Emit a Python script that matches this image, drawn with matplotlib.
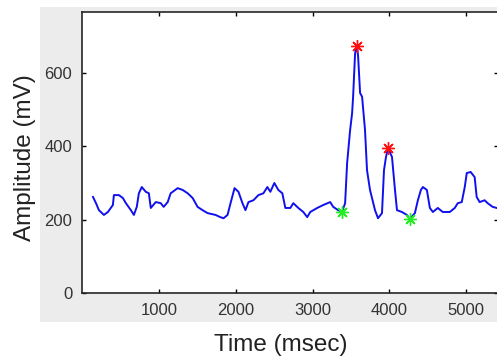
import matplotlib.pyplot as plt
from matplotlib.patches import Rectangle

# signal (time in msec, amplitude in mV)
TIME = [143, 182, 220, 285, 337, 402, 415, 480, 532, 571, 636, 675, 713, 740,
        778, 830, 870, 895, 960, 1025, 1063, 1115, 1154, 1245, 1310, 1375,
        1440, 1504, 1569, 1634, 1738, 1800, 1842, 1894, 1933, 1985, 2036,
        2088, 2127, 2166, 2231, 2296, 2361, 2412, 2451, 2503, 2555, 2607,
        2646, 2711, 2750, 2815, 2880, 2931, 2970, 3061, 3139, 3230, 3269,
        3333, 3385, 3424, 3450, 3489, 3515, 3528, 3554, 3580, 3593, 3619,
        3645, 3683, 3709, 3748, 3813, 3852, 3904, 3930, 3956, 3982, 4034,
        4073, 4099, 4163, 4228, 4267, 4332, 4371, 4410, 4436, 4488, 4527,
        4566, 4630, 4695, 4786, 4851, 4890, 4942, 4981, 5007, 5058, 5110,
        5136, 5175, 5240, 5279, 5344, 5396]
AMPLITUDE = [262, 245, 226, 213, 221, 240, 267, 267, 259, 245, 226, 213, 235,
             272, 289, 276, 272, 232, 248, 245, 235, 248, 272, 286, 281, 272,
             259, 235, 226, 218, 213, 207, 204, 213, 245, 286, 276, 245, 226,
             248, 253, 267, 272, 289, 276, 300, 281, 272, 232, 232, 245, 232,
             221, 207, 221, 232, 240, 248, 235, 226, 222, 245, 354, 444, 490,
             535, 654, 672, 645, 545, 535, 444, 335, 281, 226, 204, 218, 335,
             371, 395, 371, 281, 226, 221, 213, 202, 218, 253, 281, 289, 281,
             232, 221, 232, 221, 221, 232, 245, 248, 289, 327, 330, 316, 262,
             248, 253, 245, 235, 232]

PEAK_TIME = [3580, 3982]
PEAK_AMP = [672, 395]
TROUGH_TIME = [3385, 4267]
TROUGH_AMP = [222, 202]

X_TICKS = [1000, 2000, 3000, 4000, 5000]
Y_TICKS = [0, 200, 400, 600]

plt.rcParams['font.family'] = ['Liberation Sans', 'DejaVu Sans']

fig = plt.figure(figsize=(4.97, 3.61), dpi=100)
# grey matlab-style figure background behind the axes
fig.add_artist(Rectangle((0.0805, 0.108), 0.9195, 0.873,
                         transform=fig.transFigure, facecolor='#ececec',
                         edgecolor='none', zorder=-10))

ax = fig.add_axes([0.165, 0.188, 0.838, 0.779])
ax.plot(TIME, AMPLITUDE, color='#1010ee', lw=1.4)
# matlab-like asterisk markers
ax.plot(PEAK_TIME, PEAK_AMP, marker=(8, 2, 0), ls='none', color='#ff1010',
        ms=9, mew=1.0)
ax.plot(TROUGH_TIME, TROUGH_AMP, marker=(8, 2, 0), ls='none',
        color='#22ee22', ms=9, mew=1.0)

ax.set_xlim(0, 5420)
ax.set_ylim(0, 766)
ax.set_xticks(X_TICKS)
ax.set_yticks(Y_TICKS)
ax.tick_params(direction='in', top=True, right=True, length=3, width=1,
               labelsize=12, labelcolor='#333333', pad=7)
for s in ax.spines.values():
    s.set_color('#262626')
    s.set_linewidth(1.2)

fig.text(0.05, 0.564, 'Amplitude (mV)', rotation=90, fontsize=17.5,
         ha='center', va='center', color='#222222')
fig.text(0.565, 0.044, 'Time (msec)', fontsize=17.5, ha='center',
         va='center', color='#222222')

fig.savefig('out.png', dpi=100)
